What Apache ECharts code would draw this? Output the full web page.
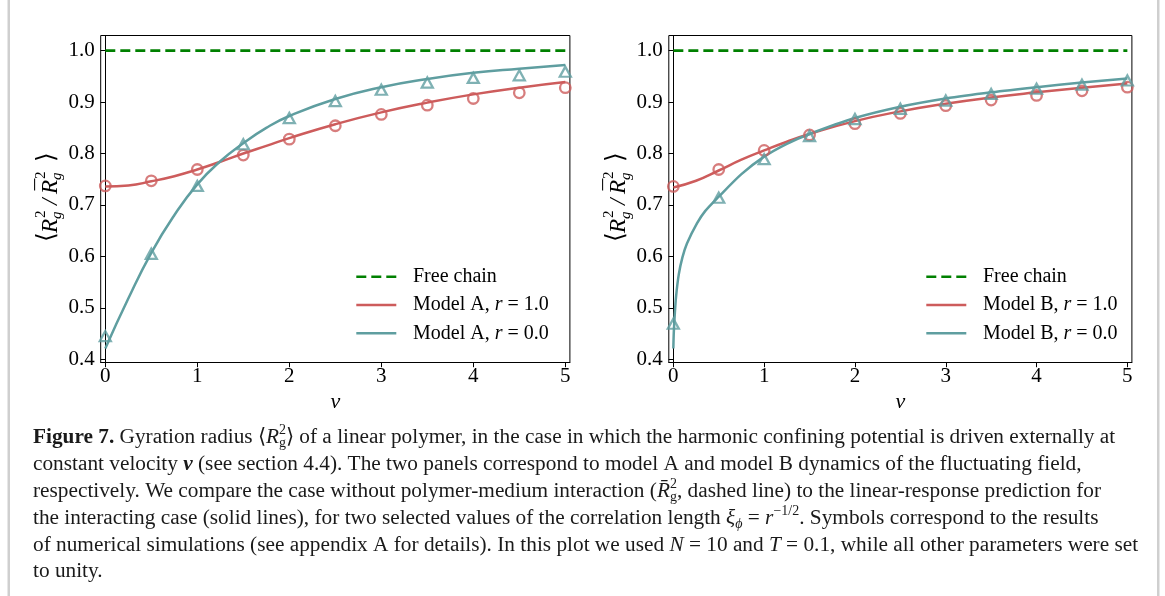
<!DOCTYPE html>
<html><head><meta charset="utf-8">
<script src="https://cdn.jsdelivr.net/npm/echarts@6/dist/echarts.min.js"></script>
<style>html,body{margin:0;padding:0;background:#fff}#c{width:1165px;height:596px}</style>
</head><body><div id="c"></div>
<script>
// ---------------- data ----------------
const simV = [0, 0.5, 1, 1.5, 2, 2.5, 3, 3.5, 4, 4.5, 5];
// Model A simulations
const simA_r1 = [0.737, 0.747, 0.769, 0.797, 0.828, 0.854, 0.876, 0.894, 0.907, 0.918, 0.928];
const simA_r0 = [0.445, 0.605, 0.737, 0.818, 0.869, 0.902, 0.924, 0.938, 0.947, 0.952, 0.959];
// Model A theory
const thA_v  = [0, 0.25, 0.5, 0.75, 1, 1.25, 1.5, 1.75, 2, 2.5, 3, 3.5, 4, 4.5, 5];
const thA_r1 = [0.736, 0.738, 0.746, 0.756, 0.769, 0.784, 0.800, 0.815, 0.830, 0.857, 0.880, 0.899, 0.915, 0.928, 0.939];
const thA_r0 = [0.421, 0.518, 0.607, 0.680, 0.740, 0.785, 0.820, 0.850, 0.873, 0.906, 0.929, 0.945, 0.957, 0.965, 0.972];
// Model B simulations
const simB_r1 = [0.736, 0.769, 0.806, 0.836, 0.858, 0.878, 0.893, 0.904, 0.913, 0.922, 0.929];
const simB_r0 = [0.469, 0.714, 0.789, 0.834, 0.867, 0.887, 0.903, 0.916, 0.926, 0.934, 0.942];
// Model B theory
const thB1_v = [0, 0.25, 0.5, 0.75, 1, 1.25, 1.5, 2, 2.5, 3, 3.5, 4, 4.5, 5];
const thB_r1 = [0.734, 0.747, 0.767, 0.788, 0.806, 0.823, 0.838, 0.863, 0.882, 0.897, 0.909, 0.919, 0.928, 0.936];
const thB0_v = [0, 0.005, 0.015, 0.03, 0.06, 0.1, 0.15, 0.26, 0.35, 0.5, 0.75, 1, 1.25, 1.5, 2, 2.5, 3, 3.5, 4, 4.5, 5];
const thB_r0 = [0.421, 0.452, 0.485, 0.522, 0.565, 0.598, 0.625, 0.664, 0.688, 0.716, 0.760, 0.794, 0.819, 0.838, 0.869, 0.891, 0.907, 0.919, 0.929, 0.938, 0.946];
// free chain reference
const freeV = [0, 5];
const freeY = [1.0, 1.0];
// ticks
const xTicks = [0, 1, 2, 3, 4, 5];
const yTicks = [0.4, 0.5, 0.6, 0.7, 0.8, 0.9, 1.0];
const namesA = ['Free chain', 'Model A, r = 1.0', 'Model A, r = 0.0'];
const namesB = ['Free chain', 'Model B, r = 1.0', 'Model B, r = 0.0'];
const capLines = [
 '{b|Figure 7.} Gyration radius ⟨{i|R}{sup|2}{sub|g}⟩ of a linear polymer, in the case in which the harmonic confining potential is driven externally at',
 'constant velocity {bi|v} (see section {a|4.4}). The two panels correspond to model A and model B dynamics of the fluctuating field,',
 'respectively. We compare the case without polymer-medium interaction ({i|R̄}{sup|2}{sub|g}, dashed line) to the linear-response prediction for',
 'the interacting case (solid lines), for two selected values of the correlation length {i|ξ}{subi|ϕ} = {i|r}{supw|−1/2}. Symbols correspond to the results',
 'of numerical simulations (see appendix {a|A} for details). In this plot we used {i|N} = 10 and {i|T} = 0.1, while all other parameters were set',
 'to unity.'
];

// ---------------- styling ----------------
const F = 'Liberation Serif';
const RED = '#cd5c5c', TEAL = '#5f9ea0', GREEN = '#008000';
const zip = (a, b) => a.map((v, i) => [v, b[i]]);

function mkX(i, min, max) {
  return {
    type: 'value', gridIndex: i, min: min, max: max,
    axisLine: {show: true, lineStyle: {color: '#000', width: 1}},
    splitLine: {show: false},
    axisTick: {show: true, customValues: xTicks, length: 4.7, lineStyle: {color: '#000', width: 1}},
    axisLabel: {customValues: xTicks, formatter: v => String(Math.round(v)), margin: 3, color: '#000', fontFamily: F, fontSize: 21},
    name: 'v', nameLocation: 'middle', nameGap: 25,
    nameTextStyle: {fontStyle: 'italic', fontFamily: F, fontSize: 22, color: '#000'}
  };
}
function mkY(i) {
  return {
    type: 'value', gridIndex: i, min: 0.3937, max: 1.0295,
    axisLine: {show: true, lineStyle: {color: '#000', width: 1}},
    splitLine: {show: false},
    axisTick: {show: true, customValues: yTicks, length: 4.7, lineStyle: {color: '#000', width: 1}},
    axisLabel: {customValues: yTicks, formatter: v => v.toFixed(1), margin: 6, color: '#000', fontFamily: F, fontSize: 21}
  };
}
function mkLegend(left, names) {
  return {
    orient: 'vertical', left: left, top: 266.7, itemWidth: 40, itemHeight: 14, itemGap: 8.3,
    selectedMode: false, data: names, padding: 0,
    itemStyle: {opacity: 0},
    lineStyle: {width: 2.6},
    formatter: n => '{sp|}' + n.replace(' r ', ' {i|r} '),
    textStyle: {fontFamily: F, fontSize: 20, color: '#000', lineHeight: 20,
      rich: {sp: {width: 11.7}, i: {fontStyle: 'italic', fontFamily: F, fontSize: 20, lineHeight: 20}}}
  };
}
function lineSeries(name, gi, v, y, color, extra) {
  return Object.assign({
    type: 'line', name: name, xAxisIndex: gi, yAxisIndex: gi, data: zip(v, y),
    symbol: 'none', smooth: 0.5,
    lineStyle: {color: color, width: 2.5}, itemStyle: {color: color}, z: 2
  }, extra || {});
}
function scat(name, gi, y, color, sym) {
  return {
    type: 'scatter', name: name, xAxisIndex: gi, yAxisIndex: gi, data: zip(simV, y),
    symbol: sym, symbolSize: sym === 'circle' ? 10.5 : [11, 10],
    itemStyle: {color: 'rgba(0,0,0,0)', borderColor: color, borderWidth: 2.3, borderJoin: 'miter'}, z: 3
  };
}
function yLabel(cx, cy) {
  const t = (s, x, y, font, align) => ({type: 'text', x: x, y: y,
    style: {text: s, font: font, fill: '#000', align: align || 'left', textAlign: align || 'left', verticalAlign: 'middle', textVerticalAlign: 'middle'}});
  const big = 'italic 23px "' + F + '"', sm = '15px "' + F + '"', smi = 'italic 15px "' + F + '"';
  const br = '25px "DejaVu Serif"';
  return {type: 'group', x: cx, y: cy, rotation: Math.PI / 2, children: [
    t('⟨', -45, -1, br),
    t('R', -36, 2.3, big),
    t('2', -21, -7.5, sm), t('g', -22, 9, smi),
    t('/', -8, 2.3, big),
    t('R', 3, 2.3, big), t('¯', 12.5, -3, '23px "' + F + '"', 'center'),
    t('2', 18, -7.5, sm), t('g', 17, 9, smi),
    t('⟩', 35, -1, br)
  ]};
}
const CF = 21.3, CS = 14;
const capRich = {
  b: {fontWeight: 'bold', fontFamily: F, fontSize: CF, lineHeight: 27},
  i: {fontStyle: 'italic', fontFamily: F, fontSize: CF, lineHeight: 27},
  bi: {fontStyle: 'italic', fontWeight: 'bold', fontFamily: F, fontSize: CF, lineHeight: 27},
  a: {fontFamily: F, fontSize: CF, color: '#2b8cc4', lineHeight: 27},
  sup: {fontFamily: F, fontSize: CS, verticalAlign: 'top', lineHeight: 19, width: 0},
  supw: {fontFamily: F, fontSize: CS, verticalAlign: 'top', lineHeight: 19},
  sub: {fontFamily: F, fontSize: CS, verticalAlign: 'bottom', lineHeight: 19},
  subi: {fontFamily: F, fontStyle: 'italic', fontSize: CS, verticalAlign: 'bottom', lineHeight: 19}
};
const capY = [437, 464, 491, 518, 545, 571];
const capGraphics = capLines.map((s, k) => ({
  type: 'text', x: 33, y: capY[k],
  style: {text: s, font: CF + 'px "' + F + '"', fill: '#1a1a1a', rich: capRich, align: 'left', verticalAlign: 'middle', lineHeight: 27}
}));

const option = {
  animation: false,
  backgroundColor: '#fff',
  grid: [
    {left: 100.7, top: 35.5, width: 469.2, height: 327, show: true, borderColor: '#000', borderWidth: 1, backgroundColor: 'transparent'},
    {left: 668.8, top: 35.5, width: 463.1, height: 327, show: true, borderColor: '#000', borderWidth: 1, backgroundColor: 'transparent'}
  ],
  xAxis: [mkX(0, -0.05, 5.05), mkX(1, -0.05, 5.05)],
  yAxis: [mkY(0), mkY(1)],
  legend: [mkLegend(355, namesA), mkLegend(925, namesB)],
  series: [
    lineSeries('Free chain', 0, freeV, freeY, GREEN, {smooth: false, lineStyle: {color: GREEN, width: 2.7, type: [10, 5]}}),
    lineSeries(namesA[1], 0, thA_v, thA_r1, RED),
    lineSeries(namesA[2], 0, thA_v, thA_r0, TEAL),
    scat('simA1', 0, simA_r1, RED, 'circle'),
    scat('simA0', 0, simA_r0, TEAL, 'triangle'),
    lineSeries('Free chain', 1, freeV, freeY, GREEN, {smooth: false, lineStyle: {color: GREEN, width: 2.7, type: [10, 5]}}),
    lineSeries(namesB[1], 1, thB1_v, thB_r1, RED),
    lineSeries(namesB[2], 1, thB0_v, thB_r0, TEAL, {smooth: 0.3}),
    scat('simB1', 1, simB_r1, RED, 'circle'),
    scat('simB0', 1, simB_r0, TEAL, 'triangle')
  ],
  graphic: [
    {type: 'rect', shape: {x: 7.5, y: 0, width: 2.5, height: 596}, style: {fill: '#cfcfcf'}},
    {type: 'rect', shape: {x: 1157, y: 0, width: 2.5, height: 596}, style: {fill: '#cfcfcf'}},
    yLabel(48.5, 197),
    yLabel(617, 197)
  ].concat(capGraphics)
};
const chart = echarts.init(document.getElementById('c'), null, {renderer: 'canvas'});
chart.setOption(option);
</script>
</body></html>
